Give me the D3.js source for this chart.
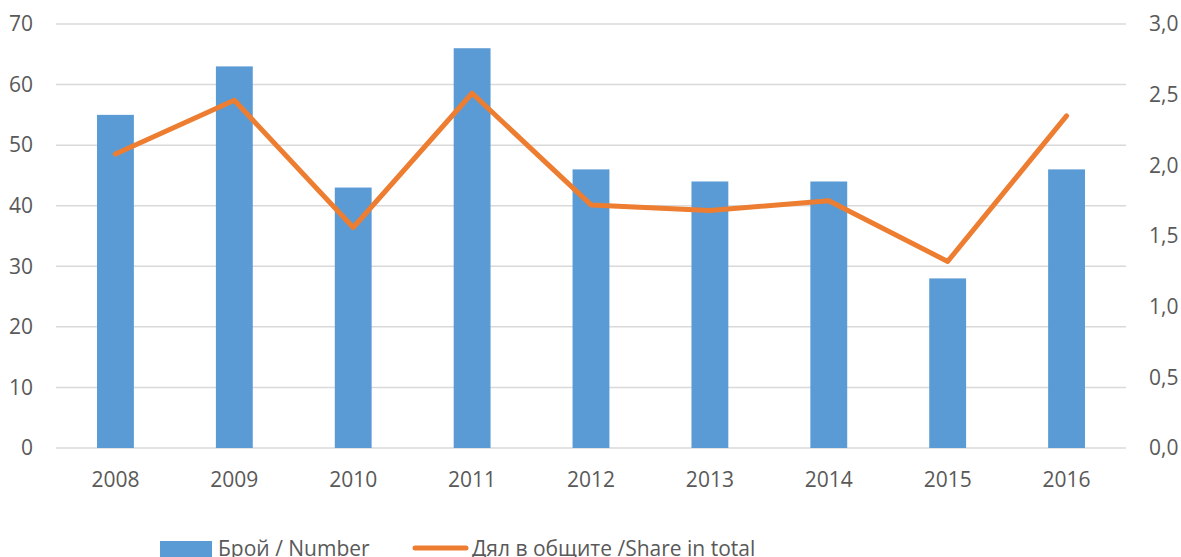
<!DOCTYPE html>
<html>
<head>
<meta charset="utf-8">
<script src="https://cdn.jsdelivr.net/npm/d3@7"></script>
<style>
  body { margin: 0; background: #fff; }
  text { font-family: "Open Sans", sans-serif; fill: #595959; }
</style>
</head>
<body>
<div id="chart"></div>
<script>
// data
const years = ["2008", "2009", "2010", "2011", "2012", "2013", "2014", "2015", "2016"];
const counts = [55, 63, 43, 66, 46, 44, 44, 28, 46];
const shares = [2.08, 2.46, 1.56, 2.51, 1.72, 1.68, 1.75, 1.32, 2.35];
const leftTicks = [0, 10, 20, 30, 40, 50, 60, 70];
const rightTicks = [0, 0.5, 1.0, 1.5, 2.0, 2.5, 3.0];
const seriesNames = ["Брой / Number", "Дял в общите /Share in total"];

const width = 1181, height = 557;
const plot = {left: 56, right: 1126, top: 24, bottom: 448};

const svg = d3.select("#chart")
  .append("svg")
    .attr("width", width)
    .attr("height", height);

const x = d3.scaleBand()
  .domain(years)
  .range([plot.left, plot.right])
  .paddingInner(0.69)
  .paddingOuter(0.345);

const yLeft = d3.scaleLinear().domain([0, 70]).range([plot.bottom, plot.top]);
const yRight = d3.scaleLinear().domain([0, 3]).range([plot.bottom, plot.top]);

// gridlines
svg.append("g")
  .selectAll("line")
  .data(leftTicks)
  .join("line")
    .attr("x1", plot.left)
    .attr("x2", plot.right)
    .attr("y1", d => yLeft(d))
    .attr("y2", d => yLeft(d))
    .attr("stroke", "#d9d9d9")
    .attr("stroke-width", 1.5);

// left axis
const leftAxis = svg.append("g")
  .attr("transform", `translate(${plot.left - 23},0)`)
  .call(d3.axisLeft(yLeft).tickValues(leftTicks).tickSize(0).tickPadding(0));
leftAxis.select(".domain").remove();
leftAxis.selectAll("text").style("font-size", "21px").attr("fill", "#595959");

// right axis
const fmt = d => d.toFixed(1).replace(".", ",");
const rightAxis = svg.append("g")
  .attr("transform", `translate(${plot.right + 23},0)`)
  .call(d3.axisRight(yRight).tickValues(rightTicks).tickFormat(fmt).tickSize(0).tickPadding(0));
rightAxis.select(".domain").remove();
rightAxis.selectAll("text").style("font-size", "21px").attr("fill", "#595959");

// bottom axis
const bottomAxis = svg.append("g")
  .attr("transform", `translate(0,${plot.bottom + 24})`)
  .call(d3.axisBottom(x).tickSize(0).tickPadding(0));
bottomAxis.select(".domain").remove();
bottomAxis.selectAll("text").style("font-size", "21px").attr("fill", "#595959");

// bars
svg.append("g")
  .selectAll("rect")
  .data(counts)
  .join("rect")
    .attr("x", (d, i) => x(years[i]))
    .attr("y", d => yLeft(d))
    .attr("width", x.bandwidth())
    .attr("height", d => plot.bottom - yLeft(d))
    .attr("fill", "#5b9bd5");

// line
const line = d3.line()
  .x((d, i) => x(years[i]) + x.bandwidth() / 2)
  .y(d => yRight(d));

svg.append("path")
  .datum(shares)
  .attr("d", line)
  .attr("fill", "none")
  .attr("stroke", "#ed7d31")
  .attr("stroke-width", 5)
  .attr("stroke-linejoin", "round")
  .attr("stroke-linecap", "round");

// legend
const legend = svg.append("g");
legend.append("rect")
  .attr("x", 160).attr("y", 541)
  .attr("width", 52).attr("height", 18)
  .attr("fill", "#5b9bd5");
legend.append("text")
  .attr("x", 218).attr("y", 556)
  .style("font-size", "21px")
  .text(seriesNames[0]);

legend.append("line")
  .attr("x1", 415).attr("x2", 466)
  .attr("y1", 548).attr("y2", 548)
  .attr("stroke", "#ed7d31")
  .attr("stroke-width", 5)
  .attr("stroke-linecap", "round");
legend.append("text")
  .attr("x", 472).attr("y", 556)
  .style("font-size", "21px")
  .text(seriesNames[1]);
</script>
</body>
</html>
